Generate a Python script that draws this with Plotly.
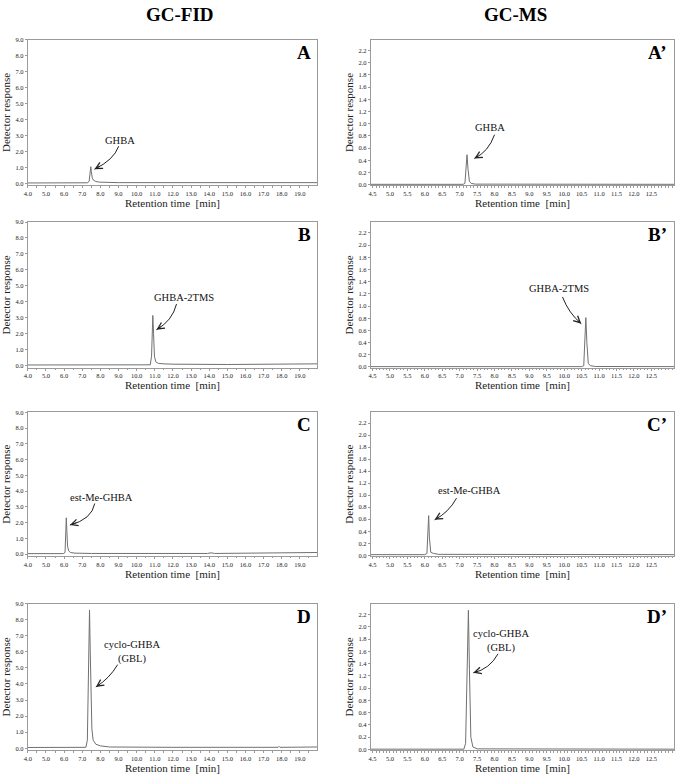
import plotly.graph_objects as go

# ---------------- data ----------------
# GC-FID panels (left column)
fid_a_t = [4.0, 7.30, 7.38, 7.43, 7.47, 7.50, 7.55, 7.62, 7.75, 7.95, 8.3, 9.0, 12.0, 16.0, 19.95]
fid_a_y = [0.03, 0.04, 0.15, 0.60, 1.05, 0.75, 0.35, 0.20, 0.12, 0.08, 0.06, 0.05, 0.05, 0.05, 0.05]

fid_b_t = [4.0, 10.0, 10.75, 10.82, 10.86, 10.89, 10.93, 10.98, 11.05, 11.2, 11.5, 12.0, 15.0, 18.0, 19.95]
fid_b_y = [0.05, 0.05, 0.06, 0.60, 2.20, 3.15, 2.00, 0.60, 0.25, 0.15, 0.12, 0.10, 0.08, 0.08, 0.12]

fid_c_t = [4.0, 5.95, 6.05, 6.09, 6.12, 6.15, 6.19, 6.25, 6.35, 6.6, 7.5, 13.9, 14.1, 14.3, 18.0, 19.3, 19.95]
fid_c_y = [0.03, 0.03, 0.10, 1.20, 2.30, 1.50, 0.50, 0.20, 0.10, 0.06, 0.04, 0.04, 0.08, 0.04, 0.05, 0.08, 0.10]

fid_d_t = [4.0, 7.20, 7.28, 7.33, 7.37, 7.40, 7.44, 7.48, 7.53, 7.60, 7.75, 8.0, 8.5, 12.0, 17.8, 17.85, 17.9, 19.95]
fid_d_y = [0.05, 0.06, 0.50, 4.50, 8.20, 8.60, 6.00, 3.00, 1.20, 0.50, 0.25, 0.15, 0.08, 0.06, 0.06, 0.12, 0.06, 0.08]

# GC-MS panels (right column)
ms_a_t = [4.45, 7.10, 7.15, 7.18, 7.21, 7.24, 7.28, 7.33, 7.45, 13.2]
ms_a_y = [0.005, 0.005, 0.02, 0.25, 0.49, 0.25, 0.05, 0.02, 0.008, 0.005]

ms_b_t = [4.45, 10.50, 10.56, 10.59, 10.62, 10.65, 10.69, 10.75, 10.9, 13.2]
ms_b_y = [0.005, 0.005, 0.02, 0.40, 0.81, 0.40, 0.06, 0.02, 0.008, 0.005]

ms_c_t = [4.45, 6.00, 6.06, 6.09, 6.11, 6.13, 6.17, 6.25, 6.4, 13.2]
ms_c_y = [0.01, 0.01, 0.03, 0.35, 0.66, 0.30, 0.05, 0.03, 0.015, 0.01]

ms_d_t = [4.45, 7.12, 7.17, 7.21, 7.25, 7.28, 7.32, 7.38, 7.5, 13.2]
ms_d_y = [0.005, 0.005, 0.10, 1.30, 2.27, 1.30, 0.20, 0.04, 0.01, 0.005]

fid_xticks = [4.0 + k for k in range(16)]          # 4.0 ... 19.0
ms_xticks = [4.5 + 0.5 * k for k in range(17)]     # 4.5 ... 12.5
fid_yticks = [float(k) for k in range(10)]         # 0.0 ... 9.0
ms_yticks = [0.2 * k for k in range(12)]           # 0.0 ... 2.2

panel_letters = ["A", "A\u2019", "B", "B\u2019", "C", "C\u2019", "D", "D\u2019"]
peak_labels = ["GHBA", "GHBA", "GHBA-2TMS", "GHBA-2TMS",
               "est-Me-GHBA", "est-Me-GHBA", "cyclo-GHBA<br>(GBL)", "cyclo-GHBA<br>(GBL)"]

# label position, arrow start, arrow control point, arrow end (data units)
label_pos = [(9.1, 2.7), (7.88, 0.93), (12.6, 4.29), (9.85, 1.29),
             (8.05, 3.57), (7.29, 1.07), (9.76, 5.98), (8.19, 1.77)]
arrow_start = [(9.01, 2.33), (8.00, 0.82), (12.2, 3.87), (9.95, 1.15),
               (7.69, 3.21), (6.91, 0.95), (8.95, 5.20), (8.10, 1.56)]
arrow_ctrl = [(8.73, 1.46), (7.83, 0.54), (11.96, 2.80), (10.13, 0.88),
              (7.53, 2.21), (6.68, 0.71), (8.50, 4.34), (7.86, 1.31)]
arrow_end = [(7.67, 0.89), (7.42, 0.43), (11.09, 2.26), (10.49, 0.71),
             (6.32, 1.84), (6.28, 0.59), (7.75, 3.81), (7.39, 1.25)]

series_t = [fid_a_t, ms_a_t, fid_b_t, ms_b_t, fid_c_t, ms_c_t, fid_d_t, ms_d_t]
series_y = [fid_a_y, ms_a_y, fid_b_y, ms_b_y, fid_c_y, ms_c_y, fid_d_y, ms_d_y]

# ---------------- layout ----------------
W, H = 676, 776
col_dom = [[24 / W, 315 / W], [369 / W, 674 / W]]
row_px = [(36, 183), (220, 367), (412, 557), (605, 753)]
row_dom = [[1 - b / H, 1 - t / H] for (t, b) in row_px]

SERIF = "Liberation Serif, Times New Roman, serif"
tick_font = dict(family=SERIF, size=6.5, color="#222")
title_font = dict(family=SERIF, size=11, color="#222")
box_col = "#9a9a9a"

fig = go.Figure()
layout = dict(width=W, height=H, margin=dict(l=0, r=0, t=0, b=0),
              paper_bgcolor="white", plot_bgcolor="white", showlegend=False)
annotations = []
shapes = []

for i in range(8):
    r, c = divmod(i, 2)
    n = i + 1
    xa = "xaxis" if n == 1 else f"xaxis{n}"
    ya = "yaxis" if n == 1 else f"yaxis{n}"
    xr = "x" if n == 1 else f"x{n}"
    yr = "y" if n == 1 else f"y{n}"
    fig.add_trace(go.Scatter(x=series_t[i], y=series_y[i], mode="lines",
                             line=dict(color="#707070", width=1),
                             xaxis=xr, yaxis=yr, hoverinfo="skip"))
    if c == 0:
        xcfg = dict(range=[4.0, 19.95], tickvals=fid_xticks,
                    ticktext=[f"{v:.1f}" for v in fid_xticks],
                    minor=dict(ticklen=1.5, dtick=0.5, tick0=4.0, tickcolor=box_col))
        ycfg = dict(range=[-0.12, 9.0], tickvals=fid_yticks,
                    ticktext=[f"{v:.1f}" for v in fid_yticks])
    else:
        xcfg = dict(range=[4.45, 13.15], tickvals=ms_xticks,
                    ticktext=[f"{v:.1f}" for v in ms_xticks],
                    minor=dict(ticklen=1.5, dtick=0.1, tick0=4.5, tickcolor=box_col))
        ycfg = dict(range=[-0.012, 2.38], tickvals=ms_yticks,
                    ticktext=[f"{v:.1f}" for v in ms_yticks])
    layout[xa] = dict(domain=col_dom[c], anchor=yr, showgrid=False, zeroline=False,
                      showline=True, linecolor=box_col, linewidth=1, mirror=True,
                      ticks="outside", ticklen=2, tickcolor=box_col,
                      tickfont=tick_font,
                      title=dict(text="Retention time\u00a0\u00a0[min]", font=title_font, standoff=1),
                      **xcfg)
    layout[ya] = dict(domain=row_dom[r], anchor=xr, showgrid=False, zeroline=False,
                      showline=True, linecolor=box_col, linewidth=1, mirror=True,
                      ticks="outside", ticklen=2, tickcolor=box_col,
                      tickfont=tick_font,
                      title=dict(text="Detector response", font=title_font, standoff=2),
                      **ycfg)
    # panel letter
    annotations.append(dict(text=panel_letters[i], xref=f"{xr} domain", yref=f"{yr} domain",
                            x=0.985, y=1.0, xanchor="right", yanchor="top", showarrow=False,
                            font=dict(family=SERIF, size=19, color="black", weight="bold")))
    # peak label
    annotations.append(dict(text=peak_labels[i], xref=xr, yref=yr,
                            x=label_pos[i][0], y=label_pos[i][1], showarrow=False,
                            xanchor="center", yanchor="middle",
                            font=dict(family=SERIF, size=10.5, color="#111")))
    # curved arrow shaft
    (x0, y0), (cx, cy), (x1, y1) = arrow_start[i], arrow_ctrl[i], arrow_end[i]
    shapes.append(dict(type="path", xref=xr, yref=yr,
                       path=f"M {x0},{y0} Q {cx},{cy} {x1},{y1}",
                       line=dict(color="#222", width=1)))
    # arrow head along the curve's end tangent
    t = 0.8
    hx = (1 - t) ** 2 * x0 + 2 * (1 - t) * t * cx + t ** 2 * x1
    hy = (1 - t) ** 2 * y0 + 2 * (1 - t) * t * cy + t ** 2 * y1
    annotations.append(dict(text="", xref=xr, yref=yr, x=x1, y=y1,
                            axref=xr, ayref=yr, ax=hx, ay=hy, showarrow=True,
                            arrowhead=5, arrowsize=1.3, arrowwidth=1, arrowcolor="#222",
                            standoff=0, startstandoff=0))

# column headers
annotations.append(dict(text="GC-FID", xref="paper", yref="paper", x=177 / W, y=1 - 11 / H,
                        showarrow=False, xanchor="center", yanchor="middle",
                        font=dict(family=SERIF, size=19, color="black", weight="bold")))
annotations.append(dict(text="GC-MS", xref="paper", yref="paper", x=515 / W, y=1 - 11 / H,
                        showarrow=False, xanchor="center", yanchor="middle",
                        font=dict(family=SERIF, size=19, color="black", weight="bold")))

layout["annotations"] = annotations
layout["shapes"] = shapes
fig.update_layout(**layout)
fig.write_html("out.html")
